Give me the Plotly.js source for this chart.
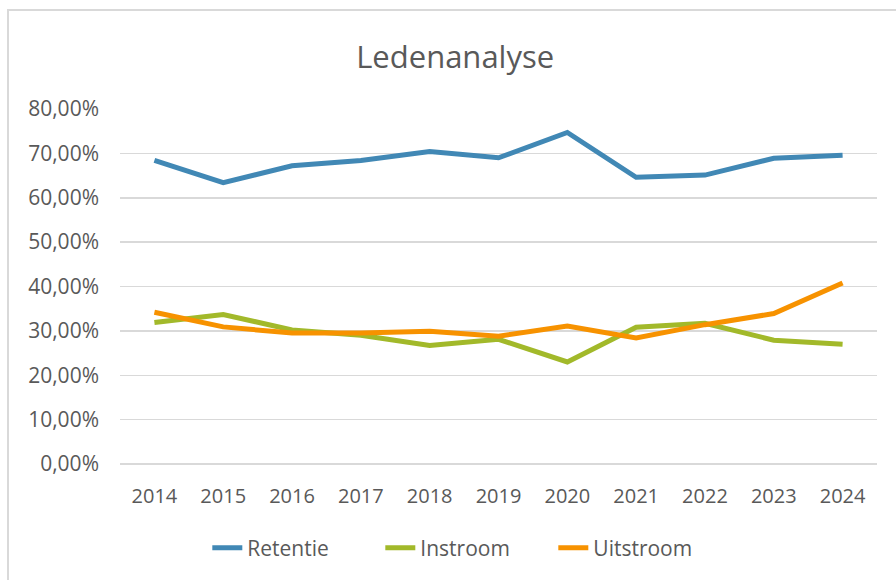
<!DOCTYPE html>
<html>
<head>
<meta charset="utf-8">
<script src="https://cdn.plot.ly/plotly-3.0.1.min.js"></script>
<style>
  html, body { margin: 0; padding: 0; background: #ffffff; }
  #chart { width: 896px; height: 580px; position: absolute; left: 0; top: 0; }
  #frame { position: absolute; left: 7px; top: 9px; width: 889px; height: 571px;
           border-top: 2px solid #d9d9d9; border-left: 2px solid #d9d9d9;
           box-sizing: border-box; pointer-events: none; }
</style>
</head>
<body>
<div id="chart"></div>
<div id="frame"></div>
<script>
const years = ['2014','2015','2016','2017','2018','2019','2020','2021','2022','2023','2024'];
const retentie  = [0.684, 0.634, 0.672, 0.684, 0.704, 0.690, 0.747, 0.646, 0.651, 0.689, 0.696];
const instroom  = [0.319, 0.337, 0.302, 0.290, 0.267, 0.281, 0.230, 0.308, 0.317, 0.279, 0.270];
const uitstroom = [0.342, 0.309, 0.295, 0.295, 0.299, 0.288, 0.311, 0.284, 0.314, 0.339, 0.408];

const seriesNames = ['Retentie', 'Instroom', 'Uitstroom'];
const seriesColors = ['#4188b5', '#a2b92a', '#f79200'];
const seriesValues = [retentie, instroom, uitstroom];

const FONT = "'Open Sans', 'Noto Sans', sans-serif";
const TXT = '#595959';

const traces = seriesNames.map((n, i) => ({
  type: 'scatter',
  mode: 'lines',
  name: n,
  x: years,
  y: seriesValues[i],
  line: { color: seriesColors[i], width: 5, shape: 'linear' },
  hoverinfo: 'x+y+name'
}));

const layout = {
  width: 896,
  height: 580,
  paper_bgcolor: 'rgba(0,0,0,0)',
  plot_bgcolor: 'rgba(0,0,0,0)',
  separators: ',.',
  margin: { l: 120, r: 19, t: 109, b: 116, pad: 0 },
  font: { family: FONT, color: TXT, size: 21 },
  title: {
    text: 'Ledenanalyse',
    font: { family: FONT, size: 31, color: TXT },
    xref: 'container', x: 0.508, xanchor: 'center',
    yref: 'container', y: 1 - 57 / 580, yanchor: 'middle'
  },
  xaxis: {
    type: 'category',
    range: [-0.5, 10.5],
    showgrid: false,
    showline: false,
    zeroline: false,
    ticks: '',
    tickfont: { family: FONT, size: 20, color: TXT },
    ticklabelstandoff: 18
  },
  yaxis: {
    range: [0, 0.8],
    tickvals: [0, 0.1, 0.2, 0.3, 0.4, 0.5, 0.6, 0.7, 0.8],
    tickformat: '.2%',
    showgrid: true,
    gridcolor: '#d9d9d9',
    gridwidth: 1.5,
    zeroline: true,
    zerolinecolor: '#d9d9d9',
    zerolinewidth: 1.5,
    showline: false,
    ticks: '',
    tickfont: { family: FONT, size: 21, color: TXT },
    ticklabelstandoff: 20
  },
  showlegend: true,
  legend: {
    orientation: 'h',
    xref: 'container', yref: 'container',
    x: 0.521, xanchor: 'center',
    y: 1 - 548 / 580, yanchor: 'middle',
    font: { family: FONT, size: 21, color: TXT },
    entrywidth: 128,
    bgcolor: 'rgba(0,0,0,0)'
  }
};

Plotly.newPlot('chart', traces, layout, { displayModeBar: false, staticPlot: true });
</script>
</body>
</html>
